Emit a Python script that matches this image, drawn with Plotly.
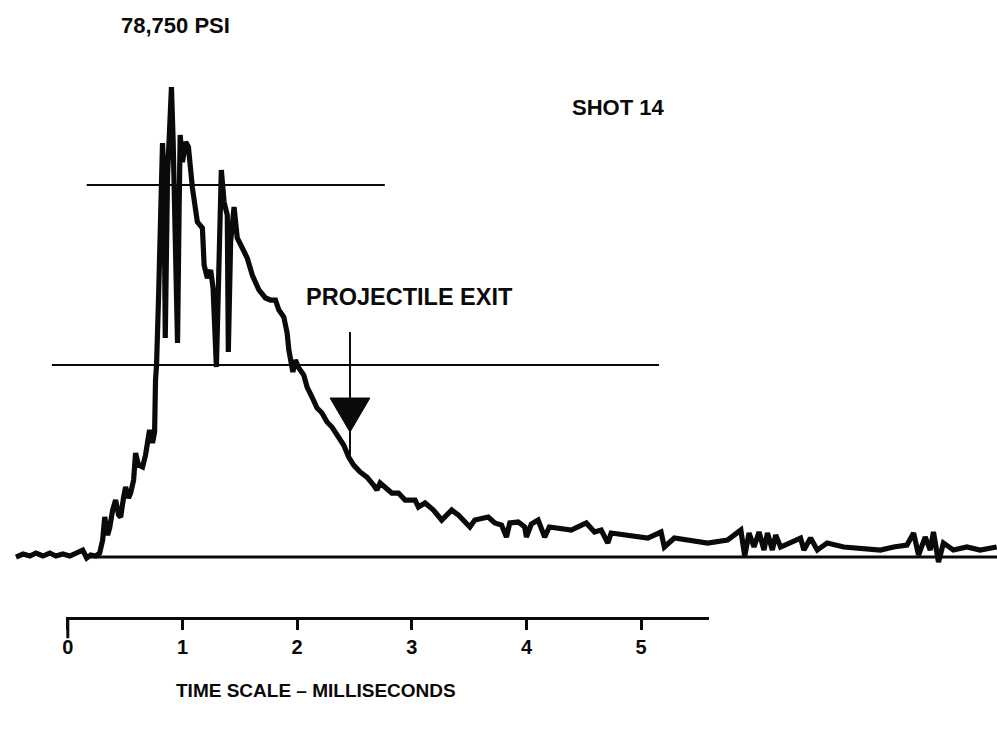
import plotly.graph_objects as go

# ---- data (time in ms, pressure in thousand psi) ----
TIME_MS = [
    -0.452, -0.391, -0.330, -0.278, -0.217, -0.157, -0.104, -0.043, 0.017, 0.070,
    0.130, 0.165, 0.200, 0.243, 0.278, 0.304, 0.322, 0.348, 0.365, 0.391,
    0.417, 0.443, 0.461, 0.487, 0.504, 0.530, 0.548, 0.574, 0.591, 0.617,
    0.652, 0.678, 0.713, 0.739, 0.757, 0.765, 0.774, 0.791, 0.809, 0.826,
    0.839, 0.850, 0.870, 0.887, 0.904, 0.919, 0.937, 0.957, 0.971, 0.980,
    1.000, 1.029, 1.052, 1.087, 1.130, 1.174, 1.189, 1.217, 1.246, 1.267,
    1.296, 1.319, 1.339, 1.363, 1.391, 1.400, 1.420, 1.450, 1.478, 1.522,
    1.565, 1.609, 1.667, 1.724, 1.768, 1.811, 1.841, 1.884, 1.913, 1.928,
    1.950, 1.963, 1.985, 2.015, 2.058, 2.087, 2.130, 2.174, 2.217, 2.261,
    2.304, 2.363, 2.406, 2.450, 2.493, 2.550, 2.609, 2.667, 2.696, 2.724,
    2.783, 2.826, 2.884, 2.942, 3.029, 3.058, 3.116, 3.189, 3.261, 3.348,
    3.406, 3.507, 3.550, 3.667, 3.724, 3.783, 3.826, 3.855, 3.928, 3.985,
    4.000, 4.043, 4.102, 4.159, 4.200, 4.246, 4.391, 4.522, 4.594, 4.652,
    4.710, 4.739, 4.884, 4.942, 5.058, 5.174, 5.203, 5.290, 5.435, 5.580,
    5.754, 5.870, 5.904, 5.942, 5.985, 6.029, 6.072, 6.102, 6.145, 6.174,
    6.217, 6.304, 6.391, 6.420, 6.478, 6.537, 6.623, 6.768, 6.913, 7.087,
    7.203, 7.319, 7.377, 7.420, 7.478, 7.522, 7.550, 7.594, 7.637, 7.724,
    7.841, 7.957, 8.102,
]
PRESSURE_KPSI = [
    0.00, 0.50, 0.17, 0.67, 0.17, 0.67, 0.17, 0.50, 0.17, 0.67,
    1.17, -0.17, 0.34, 0.17, 0.67, 2.85, 6.70, 3.69, 4.86, 7.87,
    9.55, 7.04, 6.70, 10.05, 11.73, 9.89, 10.72, 12.90, 17.43, 15.41,
    15.08, 17.09, 21.28, 19.10, 20.94, 29.66, 32.17, 43.06, 56.13, 69.37,
    64.00, 36.69, 64.00, 73.22, 78.75, 69.53, 52.78, 35.86, 58.47, 70.71,
    66.18, 69.53, 68.70, 61.83, 56.13, 55.12, 48.92, 46.75, 48.09, 45.07,
    31.83, 52.78, 64.84, 59.48, 57.30, 34.35, 52.78, 58.64, 53.45, 51.77,
    50.10, 47.25, 44.74, 43.40, 43.06, 43.06, 41.38, 40.21, 37.53, 34.68,
    32.50, 31.00, 33.01, 31.67, 30.49, 28.48, 26.81, 24.96, 24.13, 22.62,
    21.78, 20.11, 18.77, 16.76, 15.41, 14.24, 13.40, 12.06, 11.23, 12.40,
    11.56, 10.72, 10.72, 9.55, 9.55, 8.38, 9.05, 7.87, 6.20, 7.87,
    7.04, 5.03, 6.20, 6.70, 5.70, 5.36, 3.35, 5.70, 5.86, 5.03,
    3.35, 5.53, 6.20, 3.35, 5.03, 4.86, 4.52, 5.70, 4.19, 4.52,
    2.35, 4.02, 3.69, 3.35, 3.18, 4.19, 1.68, 3.18, 2.85, 2.35,
    2.85, 4.52, 0.17, 4.02, 1.68, 4.19, 1.17, 4.02, 1.17, 3.69,
    1.68, 2.35, 3.18, 1.17, 3.18, 1.17, 2.35, 1.68, 1.51, 1.17,
    1.68, 2.01, 4.02, 0.34, 3.35, 1.17, 4.19, -0.84, 2.35, 1.17,
    1.68, 1.17, 1.68,
]
PEAK_LABEL = "78,750 PSI"
SHOT_LABEL = "SHOT 14"
EXIT_LABEL = "PROJECTILE EXIT"
SCALE_TITLE = "TIME SCALE – MILLISECONDS"
CAL_LEVELS_KPSI = [62.33, 32.17]          # calibration lines
CAL_START_MS = [0.165, -0.139]
CAL_END_MS = [2.765, 5.157]
BASELINE_KPSI = 0.0
BASELINE_START_MS = 0.19
EXIT_TIME_MS = 2.461
TICK_VALUES = [0, 1, 2, 3, 4, 5]
TICK_LABELS = ["0", "1", "2", "3", "4", "5"]
SCALE_RANGE_MS = [-0.02, 5.591]

# ---- view / styling ----
X_RANGE = [-0.5652, 8.1043]
Y_RANGE = [-29.15, 93.33]
FONT = "Liberation Sans, Arial, sans-serif"
INK = "#0a0a0a"
ARROW_TOP, ARROW_BOTTOM = 37.70, 17.09
TRI_TOP, TRI_TIP, TRI_HALF = 26.64, 20.94, 0.174

fig = go.Figure()

fig.add_trace(go.Scatter(
    x=TIME_MS, y=PRESSURE_KPSI, mode="lines",
    line=dict(color=INK, width=5.2), showlegend=False, hoverinfo="skip",
))

# exit arrow head (filled triangle)
fig.add_trace(go.Scatter(
    x=[EXIT_TIME_MS - TRI_HALF, EXIT_TIME_MS + TRI_HALF, EXIT_TIME_MS, EXIT_TIME_MS - TRI_HALF],
    y=[TRI_TOP, TRI_TOP, TRI_TIP, TRI_TOP],
    mode="lines", fill="toself", fillcolor=INK,
    line=dict(color=INK, width=1), showlegend=False, hoverinfo="skip",
))

# invisible trace that carries the time-scale axis
fig.add_trace(go.Scatter(
    x=TICK_VALUES, y=[0] * len(TICK_VALUES), xaxis="x2", yaxis="y",
    mode="none", showlegend=False, hoverinfo="skip",
))

shapes = []
for lvl, x0, x1 in zip(CAL_LEVELS_KPSI, CAL_START_MS, CAL_END_MS):
    shapes.append(dict(type="line", xref="x", yref="y", x0=x0, x1=x1, y0=lvl, y1=lvl,
                       line=dict(color=INK, width=2.2)))
shapes.append(dict(type="line", xref="x", yref="y", x0=BASELINE_START_MS, x1=X_RANGE[1],
                   y0=BASELINE_KPSI, y1=BASELINE_KPSI, line=dict(color=INK, width=3)))
shapes.append(dict(type="line", xref="x", yref="y", x0=EXIT_TIME_MS, x1=EXIT_TIME_MS,
                   y0=ARROW_TOP, y1=ARROW_BOTTOM, line=dict(color=INK, width=2)))
# longer zero tick of the time scale
shapes.append(dict(type="line", xref="x2", yref="y", x0=TICK_VALUES[0], x1=TICK_VALUES[0],
                   y0=-10.3, y1=-13.6, line=dict(color=INK, width=3)))


def label(text, x, y, size):
    return dict(text="<b>%s</b>" % text, xref="paper", yref="paper", x=x, y=y,
                showarrow=False, font=dict(family=FONT, size=size, color=INK),
                xanchor="center", yanchor="middle")


annotations = [
    label(PEAK_LABEL, 0.1735, 0.9658, 22),
    label(SHOT_LABEL, 0.6189, 0.8536, 22),
    label(EXIT_LABEL, 0.4092, 0.5937, 23.5),
    label(SCALE_TITLE, 0.3149, 0.0560, 19),
]

fig.update_layout(
    width=997, height=731,
    margin=dict(l=0, r=0, t=0, b=0),
    paper_bgcolor="white", plot_bgcolor="rgba(0,0,0,0)",
    showlegend=False,
    xaxis=dict(range=X_RANGE, visible=False, fixedrange=True),
    yaxis=dict(range=Y_RANGE, visible=False, fixedrange=True),
    xaxis2=dict(
        range=SCALE_RANGE_MS, domain=[62.7 / 997, 708 / 997],
        anchor="free", position=(731 - 618) / 731, side="bottom",
        showline=True, linewidth=3, linecolor=INK,
        ticks="outside", ticklen=10, tickwidth=3, tickcolor=INK,
        tickvals=TICK_VALUES, ticktext=TICK_LABELS,
        tickfont=dict(family=FONT, size=20, color=INK, weight="bold"),
        showgrid=False, zeroline=False, fixedrange=True,
    ),
    shapes=shapes,
    annotations=annotations,
)

fig.write_html(
    "out.html",
    config={"displayModeBar": False, "staticPlot": True},
    post_script="document.body.style.margin='0';document.body.style.overflow='hidden';",
)
